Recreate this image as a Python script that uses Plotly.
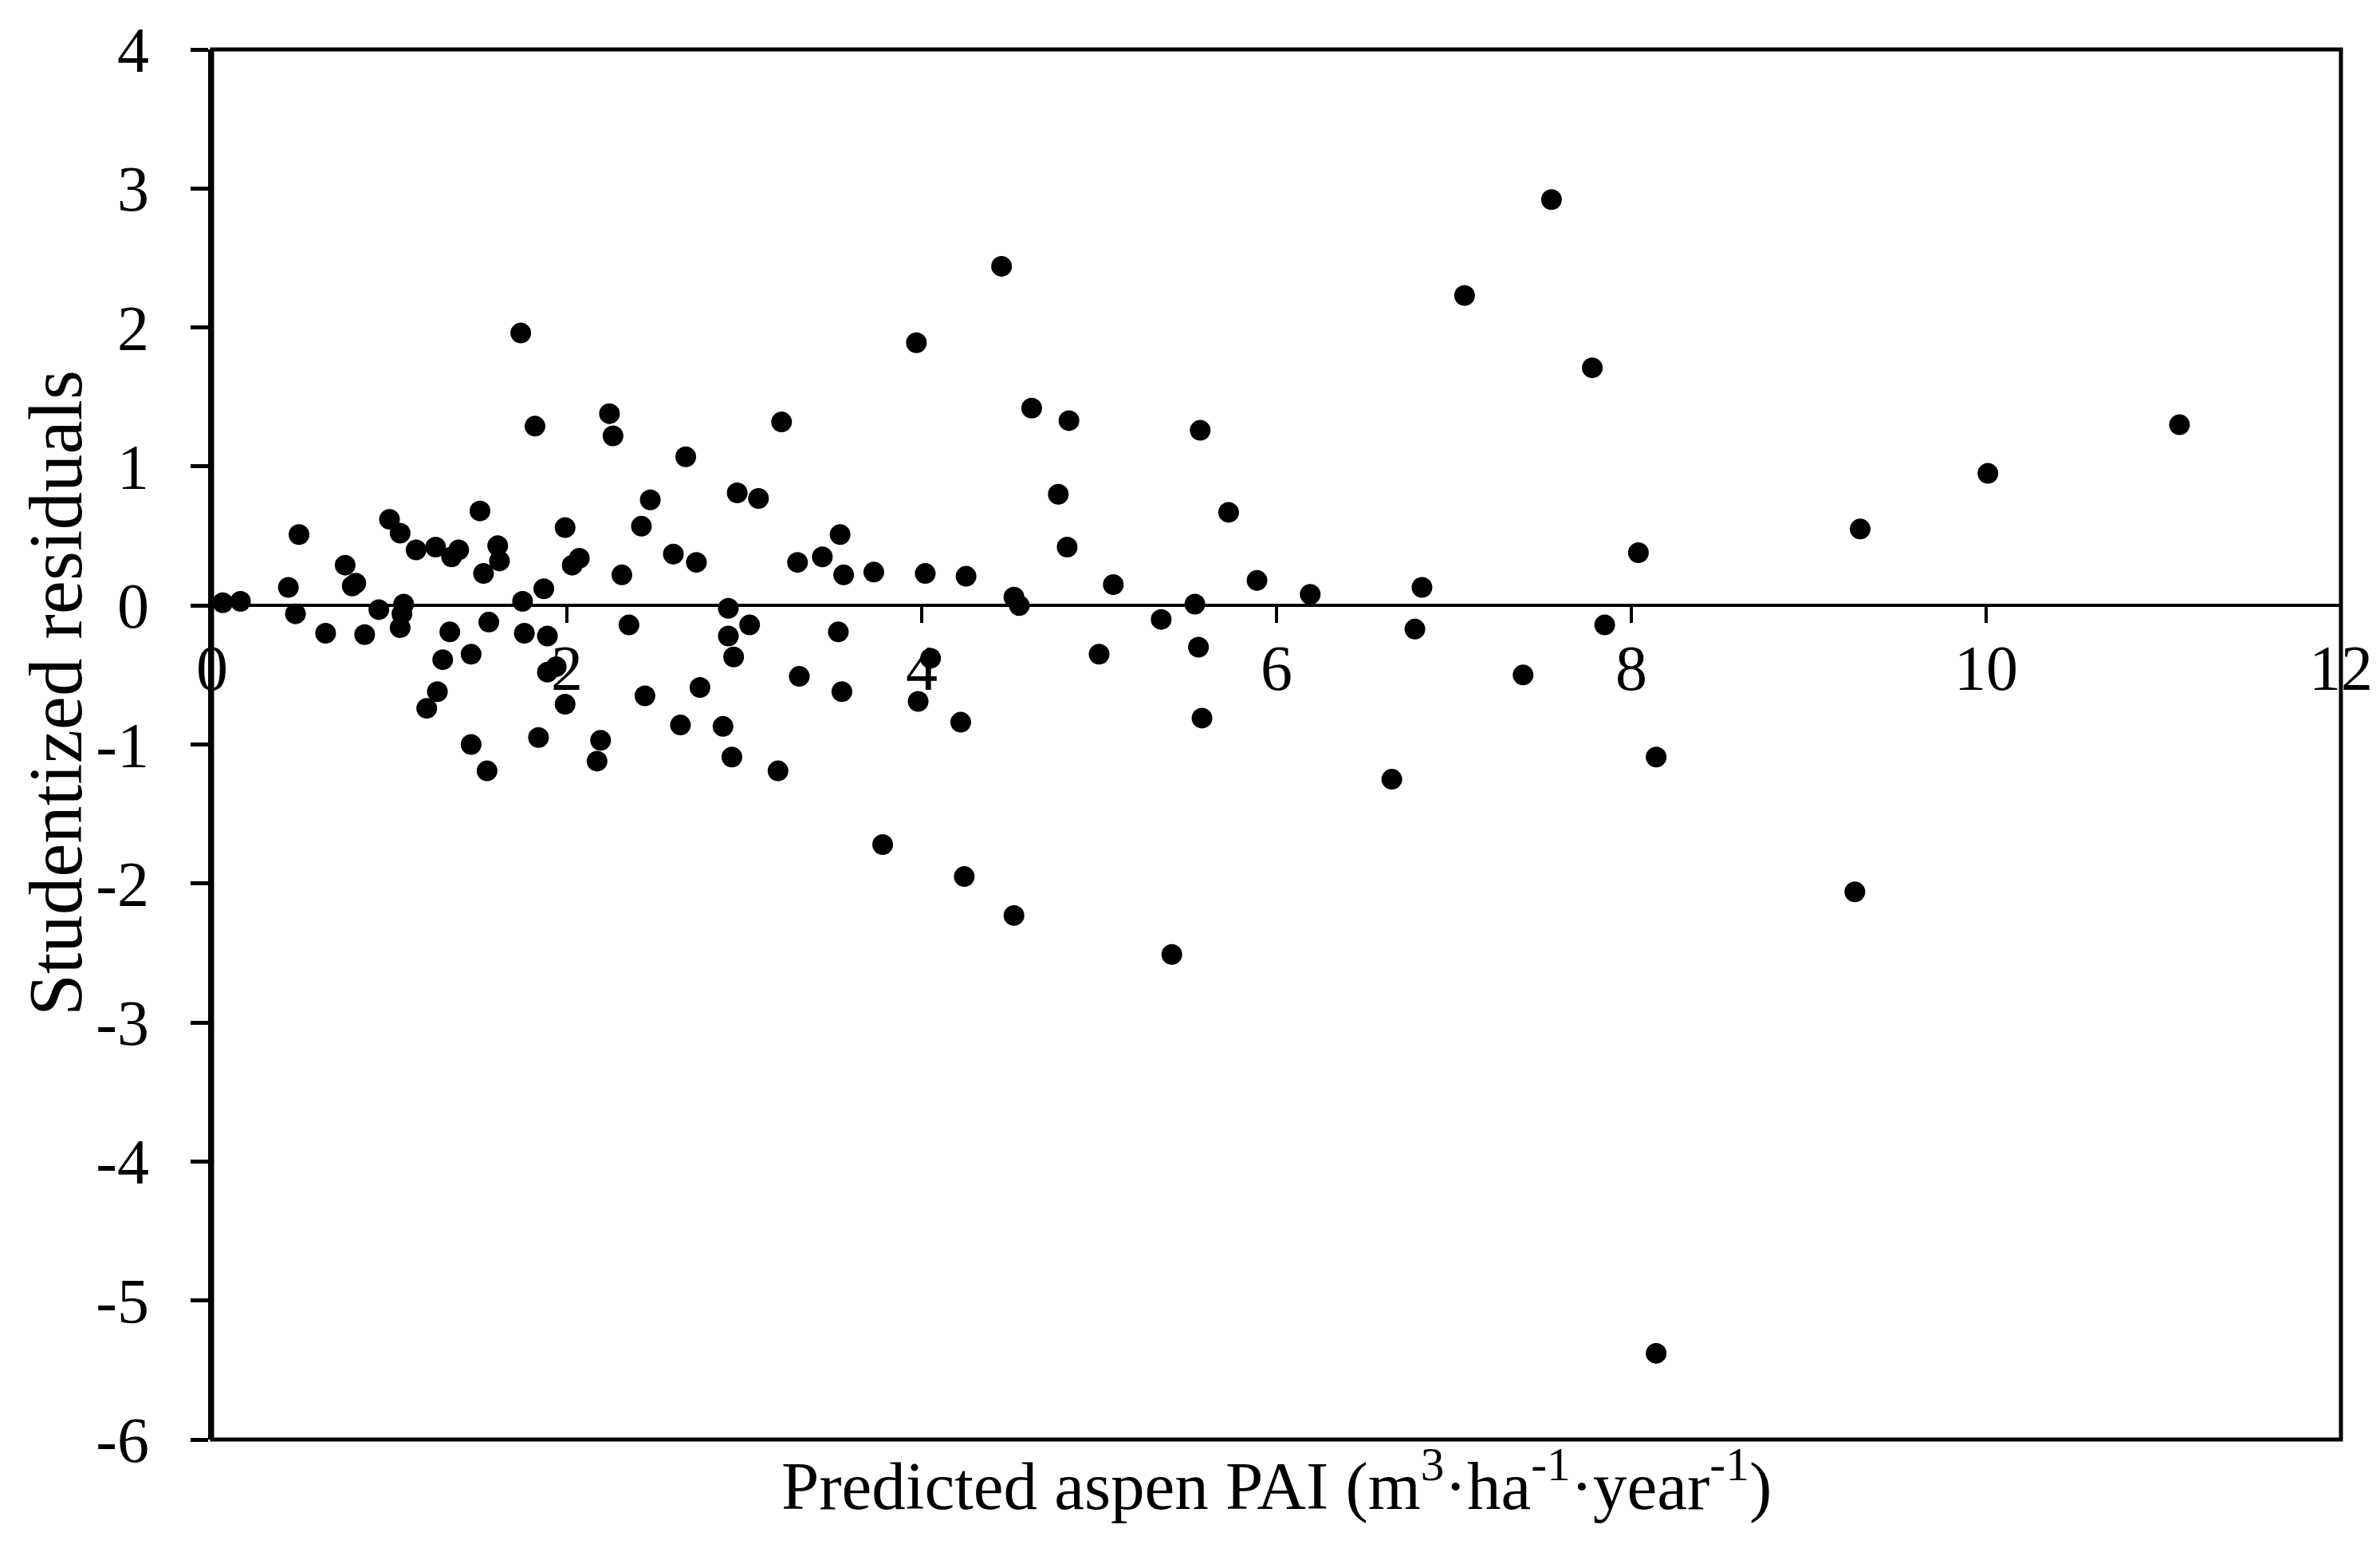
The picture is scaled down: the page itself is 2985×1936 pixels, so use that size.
import plotly.graph_objects as go

# Predicted aspen PAI (x) and studentized residuals (y)
pred_pai = [
    0.06, 0.16, 0.43, 0.47, 0.49, 0.64, 0.75, 0.79, 0.81, 0.86,
    0.94, 1.00, 1.06, 1.08, 1.07, 1.06, 1.15, 1.21, 1.26, 1.27,
    1.30, 1.34, 1.35, 1.39, 1.46, 1.46, 1.51, 1.53, 1.55, 1.56,
    1.61, 1.62, 1.74, 1.75, 1.76, 1.82, 1.84, 1.87, 1.89, 1.89,
    1.94, 1.99, 1.99, 2.03, 2.07, 2.17, 2.19, 2.24, 2.26, 2.31,
    2.35, 2.42, 2.44, 2.47, 2.60, 2.64, 2.67, 2.73, 2.75, 2.88,
    2.91, 2.91, 2.94, 2.93, 2.96, 3.03, 3.08, 3.19, 3.21, 3.30,
    3.31, 3.44, 3.54, 3.56, 3.53, 3.55, 3.73, 3.78, 3.97, 4.02,
    4.05, 3.98, 4.25, 4.22, 4.24, 4.45, 4.52, 4.55, 4.52, 4.62,
    4.83, 4.77, 4.82, 5.00, 5.08, 5.35, 5.41, 5.54, 5.57, 5.56,
    5.58, 5.73, 5.89, 6.19, 6.65, 6.78, 6.82, 7.06, 7.55, 7.39,
    7.78, 8.04, 7.85, 8.14, 8.14, 9.29, 9.26, 10.01, 11.09,
]
residuals = [
    0.02, 0.03, 0.13, -0.06, 0.51, -0.20, 0.29, 0.14, 0.16, -0.21,
    -0.03, 0.62, 0.52, 0.01, -0.06, -0.16, 0.40, -0.74, 0.42, -0.62,
    -0.39, -0.19, 0.35, 0.40, -1.00, -0.35, 0.68, 0.23, -1.19, -0.12,
    0.43, 0.32, 1.96, 0.03, -0.20, 1.29, -0.95, 0.12, -0.22, -0.48,
    -0.44, 0.56, -0.71, 0.29, 0.34, -1.12, -0.97, 1.38, 1.22, 0.22,
    -0.14, 0.57, -0.65, 0.76, 0.37, -0.86, 1.07, 0.31, -0.59, -0.87,
    -0.02, -0.22, -0.37, -1.09, 0.81, -0.14, 0.77, -1.19, 1.32, 0.31,
    -0.51, 0.35, 0.51, 0.22, -0.19, -0.62, 0.24, -1.72, 1.89, 0.23,
    -0.38, -0.69, 0.21, -0.84, -1.95, 2.44, 0.06, 0.00, -2.23, 1.42,
    1.33, 0.80, 0.42, -0.35, 0.15, -0.10, -2.51, 0.01, 1.26, -0.30,
    -0.81, 0.67, 0.18, 0.08, -1.25, -0.17, 0.13, 2.23, 2.92, -0.50,
    1.71, 0.38, -0.14, -1.09, -5.38, 0.55, -2.06, 0.95, 1.30,
]

x_ticks = [0, 2, 4, 6, 8, 10, 12]
y_ticks = [-6, -5, -4, -3, -2, -1, 0, 1, 2, 3, 4]
y_tick_text = [str(v) for v in y_ticks]  # plain hyphen minus like the original

font_family = "Liberation Serif"

fig = go.Figure()
fig.add_trace(go.Scatter(
    x=pred_pai,
    y=residuals,
    mode="markers",
    marker=dict(color="black", size=26, line=dict(width=0)),
    showlegend=False,
))

# frame around plot area
fig.add_shape(type="rect", xref="paper", yref="paper", x0=0, x1=1, y0=0, y1=1,
              line=dict(color="black", width=5), layer="above")

fig.update_layout(
    width=2985,
    height=1936,
    margin=dict(l=258, r=57, t=54, b=139),
    paper_bgcolor="white",
    plot_bgcolor="white",
    font=dict(family=font_family, color="black", size=80),
    xaxis=dict(
        range=[0, 12],
        tickvals=x_ticks,
        anchor="free",
        position=0.6,  # x axis crosses at y = 0
        showline=True,
        linecolor="black",
        linewidth=4,
        ticks="outside",
        ticklen=20,
        tickwidth=4,
        tickcolor="black",
        ticklabelstandoff=-12,
        showgrid=False,
        zeroline=False,
        tickfont=dict(size=80),
    ),
    yaxis=dict(
        range=[-6, 4],
        tickvals=y_ticks,
        ticktext=y_tick_text,
        showline=True,
        linecolor="black",
        linewidth=5,
        ticks="outside",
        ticklen=22,
        tickwidth=5,
        tickcolor="black",
        ticklabelstandoff=36,
        showgrid=False,
        zeroline=False,
        tickfont=dict(size=80),
    ),
    annotations=[
        dict(
            text="Predicted aspen PAI (m<sup>3</sup>·ha<sup>-1</sup>·year<sup>-1</sup>)",
            xref="paper", yref="paper", x=0.5, y=-0.0298,
            xanchor="center", yanchor="middle",
            showarrow=False, font=dict(size=85),
        ),
        dict(
            text="Studentized residuals",
            xref="paper", yref="paper", x=-0.0734, y=0.537,
            xanchor="center", yanchor="middle", textangle=-90,
            showarrow=False, font=dict(size=95),
        ),
    ],
)

fig.write_html("out.html")
